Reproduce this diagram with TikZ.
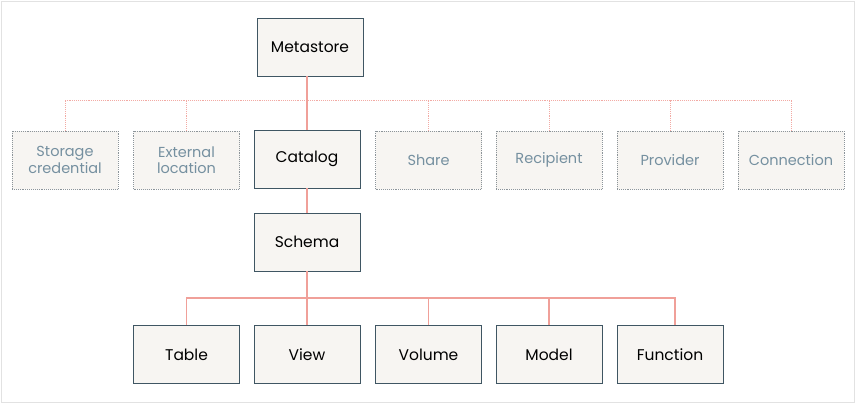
\documentclass[tikz,border=0pt]{standalone}
\usepackage{fontspec}
\setmainfont{Poppins}
\usetikzlibrary{positioning}
\definecolor{boxfill}{HTML}{F7F5F2}
\definecolor{boxedge}{HTML}{3F5663}
\definecolor{ghosttext}{HTML}{7590A0}
\definecolor{ghostedge}{HTML}{8C9499}
\definecolor{linkred}{HTML}{F0A099}
\definecolor{ghostred}{HTML}{F2AAA4}
\definecolor{framegray}{HTML}{E2E2E2}

\begin{document}
\begin{tikzpicture}[x=1pt,y=-1pt,
    solidbox/.style={draw=boxedge, fill=boxfill, line width=0.9pt, minimum width=106pt, minimum height=58pt, align=center, font=\fontsize{15.5}{16.5}\selectfont},
    ghostbox/.style={solidbox, draw=ghostedge, densely dotted, line width=0.7pt, text=ghosttext, font=\fontsize{14.5}{16.5}\selectfont},
    link/.style={draw=linkred, line width=1.2pt},
    ghostlink/.style={draw=ghostred, densely dotted, line width=0.9pt}]
    % Frame
    \useasboundingbox (0,0) rectangle (859,406);
    \draw[framegray, line width=1pt] (1.5,1.5) rectangle (854.5,402.5);

    % Top
    \node[solidbox] (meta) at (310,47) {Metastore};

    % Middle row
    \node[ghostbox] (cred) at (65,160) {Storage\\credential};
    \node[ghostbox] (extloc) at (186.5,160) {External\\location};
    \node[solidbox] (cat) at (307,159) {Catalog};
    \node[ghostbox] (share) at (428.5,160) {Share};
    \node[ghostbox] (recip) at (549,160) {Recipient};
    \node[ghostbox] (prov) at (670,160) {Provider};
    \node[ghostbox] (conn) at (791,160) {Connection};

    % Schema and children
    \node[solidbox] (schema) at (307,242) {Schema};
    \node[solidbox] (table) at (186.5,354.5) {Table};
    \node[solidbox] (view) at (307,354.5) {View};
    \node[solidbox] (volume) at (428.5,354.5) {Volume};
    \node[solidbox] (model) at (549,354.5) {Model};
    \node[solidbox] (func) at (670,354.5) {Function};

    % Dotted bus
    \coordinate (tbus) at (307,100);
    \draw[ghostlink] (cred.north) |- (tbus) -| (conn.north);
    \foreach \n in {extloc,share,recip,prov}
        \draw[ghostlink] (\n.north) -- (\n.north |- tbus);

    % Solid links
    \draw[link] (meta.south -| cat.north) -- (cat.north);
    \draw[link] (cat.south) -- (schema.north);
    \coordinate (bbus) at (307,298);
    \draw[link] (schema.south) -- (view.north);
    \draw[link] (table.north) |- (bbus) -| ([xshift=5pt]func.north);
    \foreach \n in {volume,model}
        \draw[link] (\n.north) -- (\n.north |- bbus);
\end{tikzpicture}
\end{document}
